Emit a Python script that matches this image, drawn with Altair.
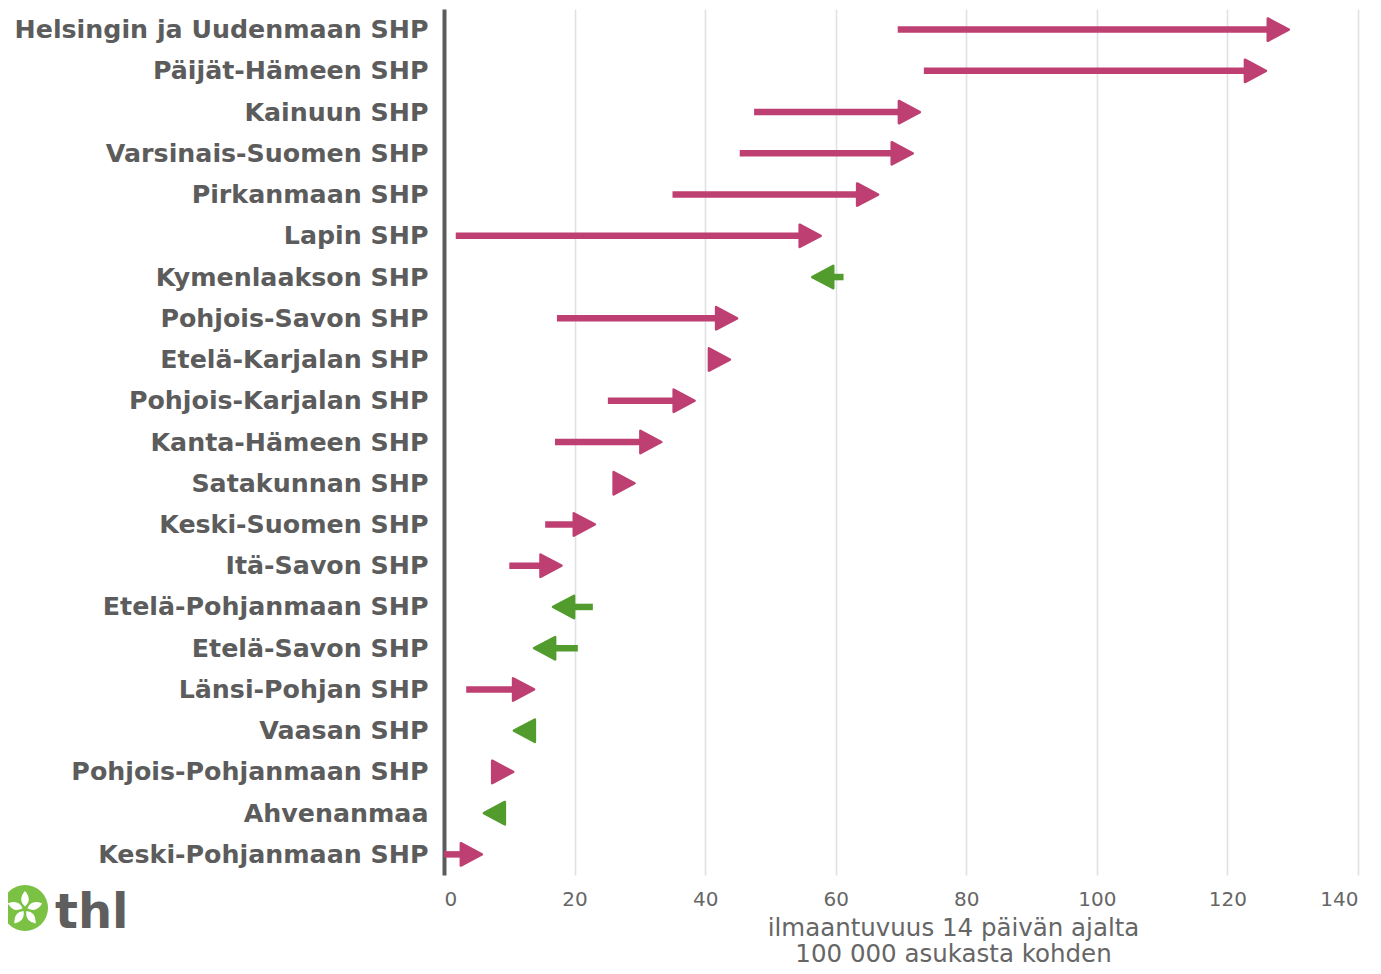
import math
import altair as alt
import pandas as pd

regions = [
    "Helsingin ja Uudenmaan SHP", "Päijät-Hämeen SHP", "Kainuun SHP",
    "Varsinais-Suomen SHP", "Pirkanmaan SHP", "Lapin SHP", "Kymenlaakson SHP",
    "Pohjois-Savon SHP", "Etelä-Karjalan SHP", "Pohjois-Karjalan SHP",
    "Kanta-Hämeen SHP", "Satakunnan SHP", "Keski-Suomen SHP", "Itä-Savon SHP",
    "Etelä-Pohjanmaan SHP", "Etelä-Savon SHP", "Länsi-Pohjan SHP", "Vaasan SHP",
    "Pohjois-Pohjanmaan SHP", "Ahvenanmaa", "Keski-Pohjanmaan SHP",
]
start_vals = [69.5, 73.5, 47.5, 45.3, 35.0, 1.8, 61.2, 17.3, 41.5, 25.1, 17.0,
              27.0, 15.5, 10.0, 22.8, 20.5, 3.4, 13.8, 8.0, 9.2, 0.0]
end_vals = [129.4, 125.9, 72.9, 71.8, 66.5, 57.7, 56.4, 44.9, 43.8, 38.4, 33.3,
            29.2, 23.1, 18.0, 16.7, 13.8, 13.8, 10.7, 10.6, 6.1, 5.8]
x_ticks = [0, 20, 40, 60, 80, 100, 120, 140]

PINK = "#be3f72"
GREEN = "#529c2e"
GRAY = "#5c5c5c"

df = pd.DataFrame({"region": regions, "start": start_vals, "end": end_vals})
df["dir"] = ["up" if e > s else "down" for s, e in zip(start_vals, end_vals)]

base = alt.Chart(df)

ycat = alt.Y("region:N", sort=regions, scale=alt.Scale(type="point", padding=0.5),
             axis=alt.Axis(title=None, labelFontSize=25.3, labelFontWeight="bold",
                           labelColor=GRAY, labelPadding=16, ticks=False, grid=False,
                           domain=True, domainColor=GRAY, domainWidth=4,
                           labelFont="DejaVu Sans", labelLimit=0))
xq = alt.X("start:Q", scale=alt.Scale(domain=[0, 140], nice=False),
           axis=alt.Axis(values=x_ticks, title=["ilmaantuvuus 14 päivän ajalta",
                                                "100 000 asukasta kohden"],
                         labelFontSize=20, labelColor="#666666", labelPadding=14,
                         labelFont="DejaVu Sans", ticks=False, domain=False,
                         grid=True, gridColor="#dfe1e5", gridWidth=1.6,
                         titleFontSize=24.5, titleFontWeight="normal",
                         titleColor="#666666", titleFont="DejaVu Sans",
                         titleX=509, titleY=41, titleBaseline="top",
                         titleLineHeight=26, titleAlign="center"))
color = alt.Color("dir:N", scale=alt.Scale(domain=["up", "down"], range=[PINK, GREEN]),
                  legend=None)

lines = base.transform_calculate(
    line_end="datum.end > datum.start ? datum.end - 1.6 : datum.end + 1.6"
).mark_rule(strokeWidth=6.5, strokeCap="butt").encode(
    x=xq, x2="line_end:Q", y=ycat, color=color
)

heads_up = base.transform_filter("datum.dir == 'up'").mark_point(
    shape="M-0.88,-1L1,0L-0.88,1Z", filled=True, size=500, xOffset=-11.2,
    opacity=1, strokeWidth=2.5, strokeJoin="round"
).encode(x=alt.X("end:Q"), y=ycat, color=color, stroke=color)

heads_down = base.transform_filter("datum.dir == 'down'").mark_point(
    shape="M0.88,-1L-1,0L0.88,1Z", filled=True, size=500, xOffset=11.2,
    opacity=1, strokeWidth=2.5, strokeJoin="round"
).encode(x=alt.X("end:Q"), y=ycat, color=color, stroke=color)


# THL logo flower: five petals as a symbol path
def _rot(x, y, a):
    return x * math.cos(a) - y * math.sin(a), x * math.sin(a) + y * math.cos(a)


petal = [(0, -0.14), (0.42, -0.52), (0, -1.0), (-0.42, -0.52), (0, -0.14)]
parts = []
for k in range(5):
    a = 2 * math.pi * k / 5
    p = [_rot(x, y, a) for x, y in petal]
    parts.append("M{:.3f},{:.3f}Q{:.3f},{:.3f} {:.3f},{:.3f}Q{:.3f},{:.3f} {:.3f},{:.3f}Z".format(
        p[0][0], p[0][1], p[1][0], p[1][1], p[2][0], p[2][1],
        p[3][0], p[3][1], p[4][0], p[4][1]))
flower_path = "".join(parts)

logo_df = pd.DataFrame({"t": ["thl"]})
LX = -419
logo_circle = alt.Chart(logo_df).mark_point(
    shape="circle", filled=True, size=2116, color="#7bc143", opacity=1
).encode(x=alt.value(LX), y=alt.value(899))
logo_flower = alt.Chart(logo_df).mark_point(
    shape=flower_path, filled=True, size=1300, color="white", opacity=1
).encode(x=alt.value(LX), y=alt.value(900))
logo_text = alt.Chart(logo_df).mark_text(
    fontSize=48, fontWeight="bold", color="#5e5e5e", align="left",
    baseline="alphabetic", font="DejaVu Sans"
).encode(x=alt.value(LX + 30), y=alt.value(919), text="t:N")

chart = alt.layer(lines, heads_up, heads_down, logo_circle, logo_flower, logo_text).properties(
    width=914, height=866,
    autosize=alt.AutoSizeParams(type="none"),
    padding={"left": 436, "top": 1, "right": 15, "bottom": 91},
).configure_view(stroke=None)

chart.save("out.html", embed_options={"renderer": "svg", "actions": False})
